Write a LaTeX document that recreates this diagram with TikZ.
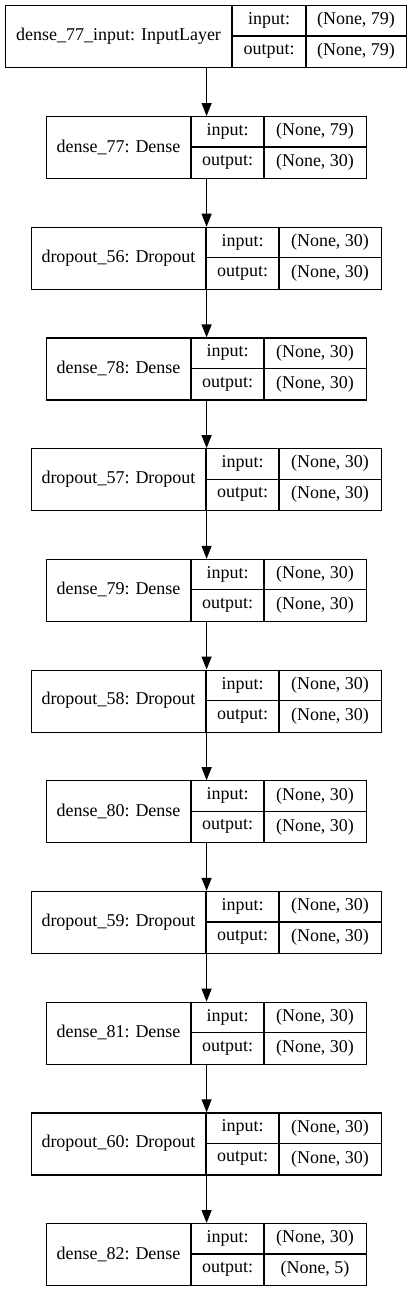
\documentclass[tikz,border=0pt]{standalone}
\usepackage{fontspec}
\setmainfont{Liberation Serif}
\usetikzlibrary{arrows.meta}
% #1 name, #2 top, #3 left, #4 div1, #5 div2, #6 right, #7 label, #8 input, #9 output
\newcommand\layerbox[9]{%
  \node[box, minimum width={(#6-#3)*1pt}] (#1) at (#3,#2) {};
  \draw[rule] (#4,#2) -- (#4,#2+62);
  \draw[rule] (#5,#2) -- (#5,#2+62);
  \draw[rule] (#4,#2+31) -- (#6,#2+31);
  \node[cell] (#1-l) at ({(#3+#4)/2},#2+31) {#7};
  \node[cell] (#1-ik) at ({(#4+#5)/2},#2+15.5) {input:};
  \node[cell] (#1-ok) at ({(#4+#5)/2},#2+46.5) {output:};
  \node[cell] (#1-iv) at ({(#5+#6)/2},#2+15.5) {#8};
  \node[cell] (#1-ov) at ({(#5+#6)/2},#2+46.5) {#9};
}
\begin{document}
\begin{tikzpicture}[x=1pt,y=-1pt,
  font=\fontsize{18}{21}\selectfont,
  box/.style={draw, line width=1.2pt, inner sep=0pt, anchor=north west, minimum height=62pt},
  rule/.style={line width=1.2pt},
  cell/.style={inner sep=0pt, anchor=center},
  conn/.style={line width=1.2pt, -{Triangle[length=13pt,width=10pt]}}]
\useasboundingbox[fill=white] (0,0) rectangle (412,1291);
\layerbox{b0}{5}{5}{232}{306}{406}{dense\_77\_input: InputLayer}{(None, 79)}{(None, 79)}
\layerbox{b1}{116}{46}{191}{264}{366}{dense\_77: Dense}{(None, 79)}{(None, 30)}
\layerbox{b2}{226.7}{31}{206}{279}{381}{dropout\_56: Dropout}{(None, 30)}{(None, 30)}
\layerbox{b3}{337.4}{46}{191}{264}{366}{dense\_78: Dense}{(None, 30)}{(None, 30)}
\layerbox{b4}{448.1}{31}{206}{279}{381}{dropout\_57: Dropout}{(None, 30)}{(None, 30)}
\layerbox{b5}{558.8}{46}{191}{264}{366}{dense\_79: Dense}{(None, 30)}{(None, 30)}
\layerbox{b6}{669.5}{31}{206}{279}{381}{dropout\_58: Dropout}{(None, 30)}{(None, 30)}
\layerbox{b7}{780.2}{46}{191}{264}{366}{dense\_80: Dense}{(None, 30)}{(None, 30)}
\layerbox{b8}{890.9}{31}{206}{279}{381}{dropout\_59: Dropout}{(None, 30)}{(None, 30)}
\layerbox{b9}{1001.6}{46}{191}{264}{366}{dense\_81: Dense}{(None, 30)}{(None, 30)}
\layerbox{b10}{1112.3}{31}{206}{279}{381}{dropout\_60: Dropout}{(None, 30)}{(None, 30)}
\layerbox{b11}{1223}{46}{191}{264}{366}{dense\_82: Dense}{(None, 30)}{(None, 5)}
\draw[conn] (b0.south -| b1.north) -- (b1.north);
\foreach \a/\b in {b1/b2,b2/b3,b3/b4,b4/b5,b5/b6,b6/b7,b7/b8,b8/b9,b9/b10,b10/b11}
  \draw[conn] (\a.south) -- (\b.north);
\end{tikzpicture}
\end{document}
